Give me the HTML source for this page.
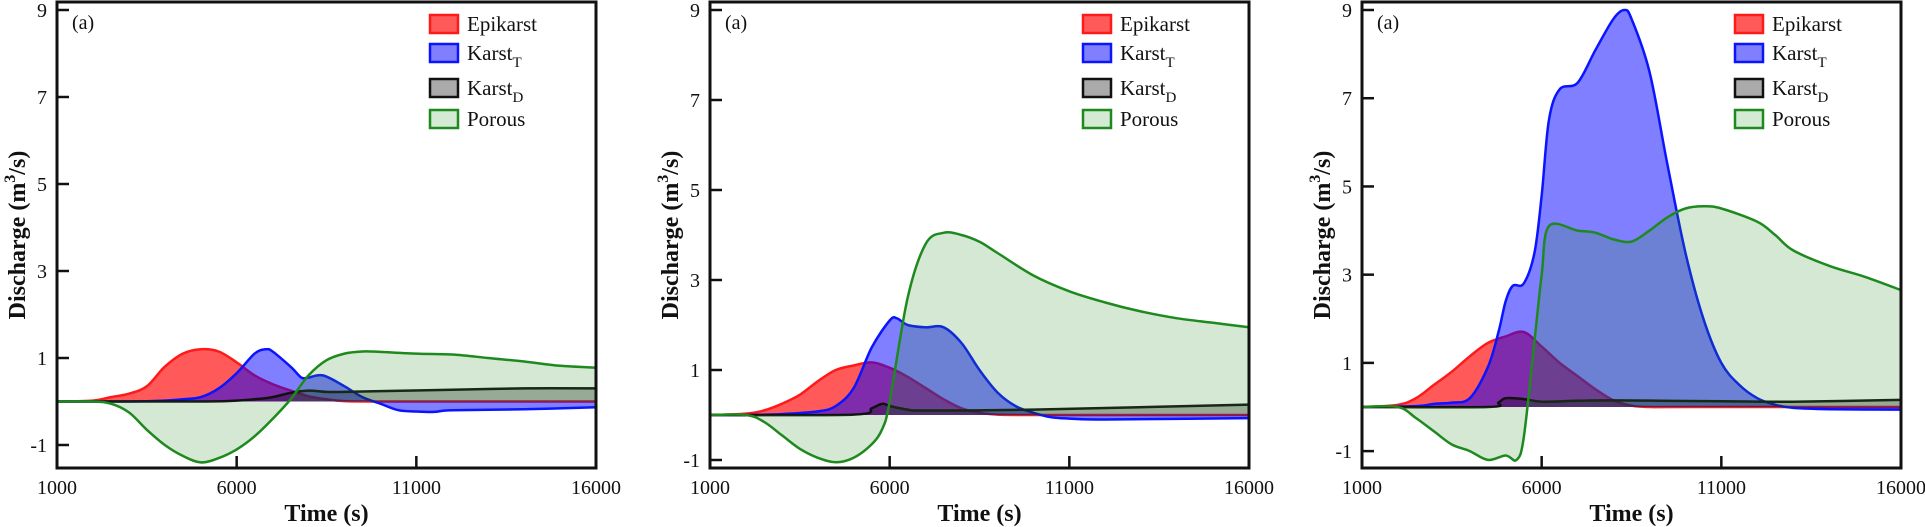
<!DOCTYPE html>
<html><head><meta charset="utf-8"><style>
html,body{margin:0;padding:0;background:#fff;}
svg{display:block;font-family:"Liberation Serif",serif;}
</style></head><body>
<svg id="chart" width="1925" height="527" xmlns="http://www.w3.org/2000/svg"></svg>
<script>
// x values (units of 1000 s) and series values per panel
const p1EpiX=[1,2,2.5,3,3.5,4,4.5,5,5.5,6,6.5,7,7.5,8,8.5,9,10,16];
const p1EpiY=[0,0.02,0.1,0.18,0.35,0.8,1.1,1.2,1.15,0.9,0.6,0.4,0.25,0.12,0.05,0.01,0,0];
const p1KtX=[1,3,4,4.5,5,5.5,6,6.5,6.8,7,7.5,7.8,8,8.4,9,9.5,10,10.5,11,11.5,12,14,16];
const p1KtY=[0,0,0.02,0.05,0.1,0.3,0.65,1.1,1.2,1.15,0.8,0.55,0.55,0.6,0.35,0.1,-0.05,-0.2,-0.23,-0.24,-0.2,-0.18,-0.13];
const p1KdX=[1,5,6,6.5,7,7.5,8,8.5,9,10,12,14,16];
const p1KdY=[0,0,0.02,0.05,0.1,0.2,0.25,0.22,0.22,0.24,0.27,0.3,0.3];
const p1PoX=[1,2,2.5,3,3.5,4,4.5,5,5.5,6,6.5,7,7.5,8,8.5,9,9.5,10,11,12,13,14,15,16];
const p1PoY=[0,0,-0.05,-0.25,-0.65,-1.0,-1.25,-1.4,-1.3,-1.1,-0.8,-0.4,0.05,0.6,0.95,1.1,1.15,1.14,1.1,1.08,1.0,0.92,0.82,0.78];

const p2EpiX=[1,2,2.5,3,3.5,4,4.5,5,5.5,6,6.5,7,7.5,8,8.5,9,10,16];
const p2EpiY=[0,0.03,0.1,0.25,0.45,0.75,1.0,1.1,1.17,1.05,0.85,0.6,0.35,0.15,0.05,0.01,0,0];
const p2KtX=[1,2,3,4,4.5,5,5.5,6,6.2,6.5,7,7.5,8,8.5,9,9.5,10,10.5,11,12,16];
const p2KtY=[0,0,0.02,0.08,0.2,0.6,1.5,2.1,2.15,2.0,1.95,1.95,1.6,1.0,0.5,0.2,0.05,-0.05,-0.08,-0.1,-0.07];
const p2KdX=[1,5,5.5,5.8,6,6.5,7,10,16];
const p2KdY=[0,0.01,0.15,0.25,0.2,0.12,0.1,0.12,0.23];
const p2PoX=[1,2,2.5,3,3.5,4,4.5,5,5.5,5.8,6,6.5,7,7.5,8,8.5,9,10,11,12,13,14,15,16];
const p2PoY=[0,0,-0.15,-0.45,-0.75,-0.95,-1.05,-0.95,-0.65,-0.3,0.3,2.6,3.8,4.05,4.0,3.85,3.6,3.1,2.75,2.5,2.3,2.15,2.05,1.95];

const p3EpiX=[1,2,2.5,3,3.5,4,4.5,5,5.5,6,6.5,7,7.5,8,8.5,9,10,16];
const p3EpiY=[0,0.05,0.2,0.5,0.8,1.15,1.45,1.6,1.7,1.37,1.0,0.7,0.4,0.15,0.03,0,0,0];
const p3KtX=[1,2.5,3,3.5,4,4.5,4.8,5,5.2,5.5,5.8,6,6.2,6.5,7,7.5,8,8.3,8.5,9,9.5,10,10.5,11,11.5,12,12.5,13,14,16];
const p3KtY=[0,0.02,0.07,0.1,0.2,0.9,1.7,2.4,2.75,2.8,3.5,4.8,6.5,7.2,7.35,8.1,8.8,9.0,8.8,7.6,5.5,3.5,2.0,1.0,0.5,0.2,0.05,-0.02,-0.05,-0.06];
const p3KdX=[1,4.5,4.8,5,5.5,6,7,8,11,13,16];
const p3KdY=[0,0,0.1,0.2,0.18,0.12,0.14,0.15,0.13,0.12,0.16];
const p3PoX=[1,2,2.5,3,3.5,4,4.5,5,5.3,5.5,5.8,6,6.2,7,7.5,8,8.5,9,9.5,10,10.5,11,12,12.5,13,14,15,16];
const p3PoY=[0,0,-0.25,-0.55,-0.85,-1.0,-1.2,-1.1,-1.2,-0.7,1.5,3.0,4.1,4.0,3.95,3.8,3.75,4.0,4.3,4.5,4.55,4.5,4.2,3.9,3.55,3.2,2.95,2.65];

const yTicks=[-1,1,3,5,7,9];
const xTickLabels=[1000,6000,11000,16000];
const legendNames=["Epikarst","Karst","Karst","Porous"];
const legendSubs=["","T","D",""];

const NS="http://www.w3.org/2000/svg";
const svg=document.getElementById('chart');
function mk(tag,attrs,parent){const e=document.createElementNS(NS,tag);for(const k in attrs)e.setAttribute(k,attrs[k]);(parent||svg).appendChild(e);return e;}

const styles=[
 {fill:"rgba(255,0,0,0.65)",stroke:"#ff1a1a",sw:"#ff5a5a"},
 {fill:"rgba(0,0,255,0.5)",stroke:"#0a14ff",sw:"#8080ff"},
 {fill:"rgba(0,0,0,0.3)",stroke:"#111",sw:"#aaaaaa"},
 {fill:"rgba(40,140,40,0.2)",stroke:"#1e8a1e",sw:"#d4ead4"}
];
const panels=[
 {left:57,yMin:-1.53,zero:401.5,series:[[p1EpiX,p1EpiY],[p1KtX,p1KtY],[p1KdX,p1KdY],[p1PoX,p1PoY]]},
 {left:710,yMin:-1.18,zero:415,series:[[p2EpiX,p2EpiY],[p2KtX,p2KtY],[p2KdX,p2KdY],[p2PoX,p2PoY]]},
 {left:1362,yMin:-1.38,zero:407,series:[[p3EpiX,p3EpiY],[p3KtX,p3KtY],[p3KdX,p3KdY],[p3PoX,p3PoY]]}
];
const W=539, TOP=2, BOT=468, Y9=10;

function smoothPath(pts){
 let d="M"+pts[0][0].toFixed(1)+","+pts[0][1].toFixed(1);
 for(let i=0;i<pts.length-1;i++){
  const p0=pts[Math.max(i-1,0)],p1=pts[i],p2=pts[i+1],p3=pts[Math.min(i+2,pts.length-1)];
  const c1=[p1[0]+(p2[0]-p0[0])/6,p1[1]+(p2[1]-p0[1])/6];
  const c2=[p2[0]-(p3[0]-p1[0])/6,p2[1]-(p3[1]-p1[1])/6];
  d+=" C"+c1[0].toFixed(1)+","+c1[1].toFixed(1)+" "+c2[0].toFixed(1)+","+c2[1].toFixed(1)+" "+p2[0].toFixed(1)+","+p2[1].toFixed(1);
 }
 return d;
}

panels.forEach((P,pi)=>{
 const g=mk('g',{});
 
 
 const sc=(P.zero-Y9)/9;
 const xs=v=>P.left+(v-1)/15*W;
 const ys=v=>P.zero-v*sc;
 P.series.forEach((s,si)=>{
  const pts=s[0].map((x,i)=>[xs(x),ys(s[1][i])]);
  const line=smoothPath(pts);
  const area=line+" L"+xs(s[0][s[0].length-1]).toFixed(1)+","+ys(0).toFixed(1)+" L"+xs(s[0][0]).toFixed(1)+","+ys(0).toFixed(1)+" Z";
  const a=mk('path',{d:area,fill:styles[si].fill,stroke:"none"},g);
  
  
  const l=mk('path',{d:line,fill:"none",stroke:styles[si].stroke,"stroke-width":2.5},g);
  
  
 });
 const fr=mk('rect',{x:P.left,y:TOP,width:W,height:BOT-TOP,fill:"none",stroke:"#111","stroke-width":3},g);
 
 
 yTicks.forEach(t=>{
  const y=ys(t);
  mk('line',{x1:P.left,x2:P.left+12,y1:y,y2:y,stroke:"#111","stroke-width":2.5},g);
  const tx=mk('text',{x:P.left-10,y:y+7,"text-anchor":"end","font-size":20,fill:"#111"},g);
  tx.textContent=t;
  
  
 });
 xTickLabels.forEach((t,i)=>{
  const x=xs(t/1000);
  if(i>0&&i<xTickLabels.length-1) mk('line',{x1:x,x2:x,y1:BOT,y2:BOT-12,stroke:"#111","stroke-width":2.5},g);
  const tx=mk('text',{x:x,y:494,"text-anchor":"middle","font-size":20,fill:"#111"},g);
  tx.textContent=t;
  
  
 });
 const xt=mk('text',{x:P.left+W/2,y:521,"text-anchor":"middle","font-size":24,"font-weight":"bold",fill:"#111"},g);
 xt.textContent="Time (s)";
 
 
 const yt=mk('text',{transform:"translate("+(P.left-32)+",235) rotate(-90)","text-anchor":"middle","font-size":24,"font-weight":"bold",fill:"#111"},g);
 yt.innerHTML='Discharge (m<tspan font-size="16" dy="-10">3</tspan><tspan dy="10">/s)</tspan>';
 
 
 const lab=mk('text',{x:P.left+15,y:29,"font-size":20,fill:"#111"},g);
 lab.textContent="(a)";
 
 
 const rowsY=[24,53,88,119];
 legendNames.forEach((n,i)=>{
  const lg=mk('g',{},g);
  
  
  mk('rect',{x:P.left+373,y:rowsY[i]-9,width:28,height:18,fill:styles[i].sw,stroke:styles[i].stroke,"stroke-width":2.5},lg);
  const tx=mk('text',{x:P.left+410,y:rowsY[i]+7,"font-size":21,fill:"#111"},lg);
  tx.innerHTML=n+(legendSubs[i]?'<tspan font-size="15" dy="7">'+legendSubs[i]+'</tspan>':'');
 });
});
</script>
</body></html>
